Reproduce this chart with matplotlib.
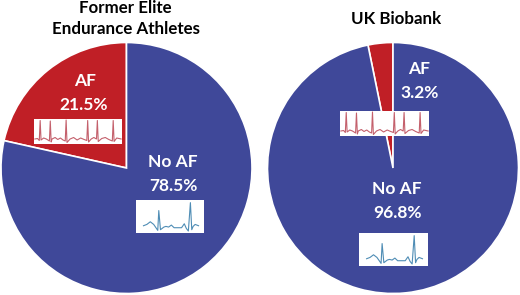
import matplotlib
matplotlib.use("Agg")
import matplotlib.pyplot as plt

W,H=520,295
plt.rcParams['font.family']=['Lato','DejaVu Sans']

labels=["AF","No AF"]
athletes=[21.5,78.5]
biobank=[3.2,96.8]
RED="#c01f26"
BLUE="#3f4899"

# traces (x,y as fraction of the white box)
af_x=[.01,.04,.06,.07,.08,.11,.14,.175,.185,.195,.205,.24,.27,.30,.33,.355,.365,.375,.41,.45,.49,.53,.57,.60,.61,.62,.65,.68,.71,.72,.73,.77,.81,.85,.89,.90,.91,.94,.99]
af_y=[.20,.22,.14,.94,.16,.24,.20,.12,.92,.08,.20,.26,.18,.24,.16,.12,.96,.06,.20,.26,.16,.24,.18,.14,.94,.08,.20,.26,.20,.94,.10,.22,.26,.18,.12,.94,.10,.24,.20]
sr_x=[.11,.16,.21,.26,.30,.32,.335,.36,.41,.44,.48,.52,.56,.62,.67,.71,.74,.77,.80,.82,.84,.87,.92]
sr_y=[.22,.26,.34,.26,.14,.08,.68,.10,.18,.20,.18,.24,.16,.16,.16,.28,.14,.06,.92,.10,.20,.26,.22]

def px_rect(x0,y0,x1,y1):
    return [x0/W,1-y1/H,(x1-x0)/W,(y1-y0)/H]

def trace_box(fig,rect,xs,ys,color):
    a=fig.add_axes(px_rect(*rect),zorder=3)
    a.set_facecolor("white")
    a.plot(xs,ys,color=color,lw=.8)
    a.set_xlim(0,1)
    a.set_ylim(0,1)
    a.set_xticks([])
    a.set_yticks([])
    for s in a.spines.values():
        s.set_visible(False)

fig=plt.figure(figsize=(5.2,2.95),dpi=100)
ax=fig.add_axes([0,0,1,1])

def draw_pie(vals,cx):
    ax.pie(vals,colors=[RED,BLUE],startangle=90,center=(cx,127),radius=125.5,
           wedgeprops=dict(edgecolor="white",linewidth=1.2))

draw_pie(athletes,126.5)
draw_pie(biobank,393)
ax.set_xlim(0,W)
ax.set_ylim(0,H)
ax.set_aspect("equal")
ax.axis("off")

def t(x,y,s,color="white",size=12.5):
    ax.text(x,H-y,s,color=color,fontsize=size,fontweight="bold",ha="center",va="center")

t(125,8,"Former Elite",color="black",size=12.2)
t(126,29,"Endurance Athletes",color="black",size=12.2)
t(396,19,"UK Biobank",color="black",size=12.2)

t(85,81,labels[0])
t(84,105,"%.1f%%"%athletes[0])
t(173,162,labels[1])
t(173,186,"%.1f%%"%athletes[1])
t(419,69,labels[0])
t(420,93,"%.1f%%"%biobank[0])
t(397,189,labels[1])
t(397,213,"%.1f%%"%biobank[1])

trace_box(fig,(34,119,122,144),af_x,af_y,"#c4606c")
trace_box(fig,(136,200,204,233),sr_x,sr_y,"#4f8db5")
trace_box(fig,(340,111,429,136),af_x,af_y,"#c4606c")
trace_box(fig,(359,233,428,266),sr_x,sr_y,"#4f8db5")

fig.savefig("out.png",dpi=100)
